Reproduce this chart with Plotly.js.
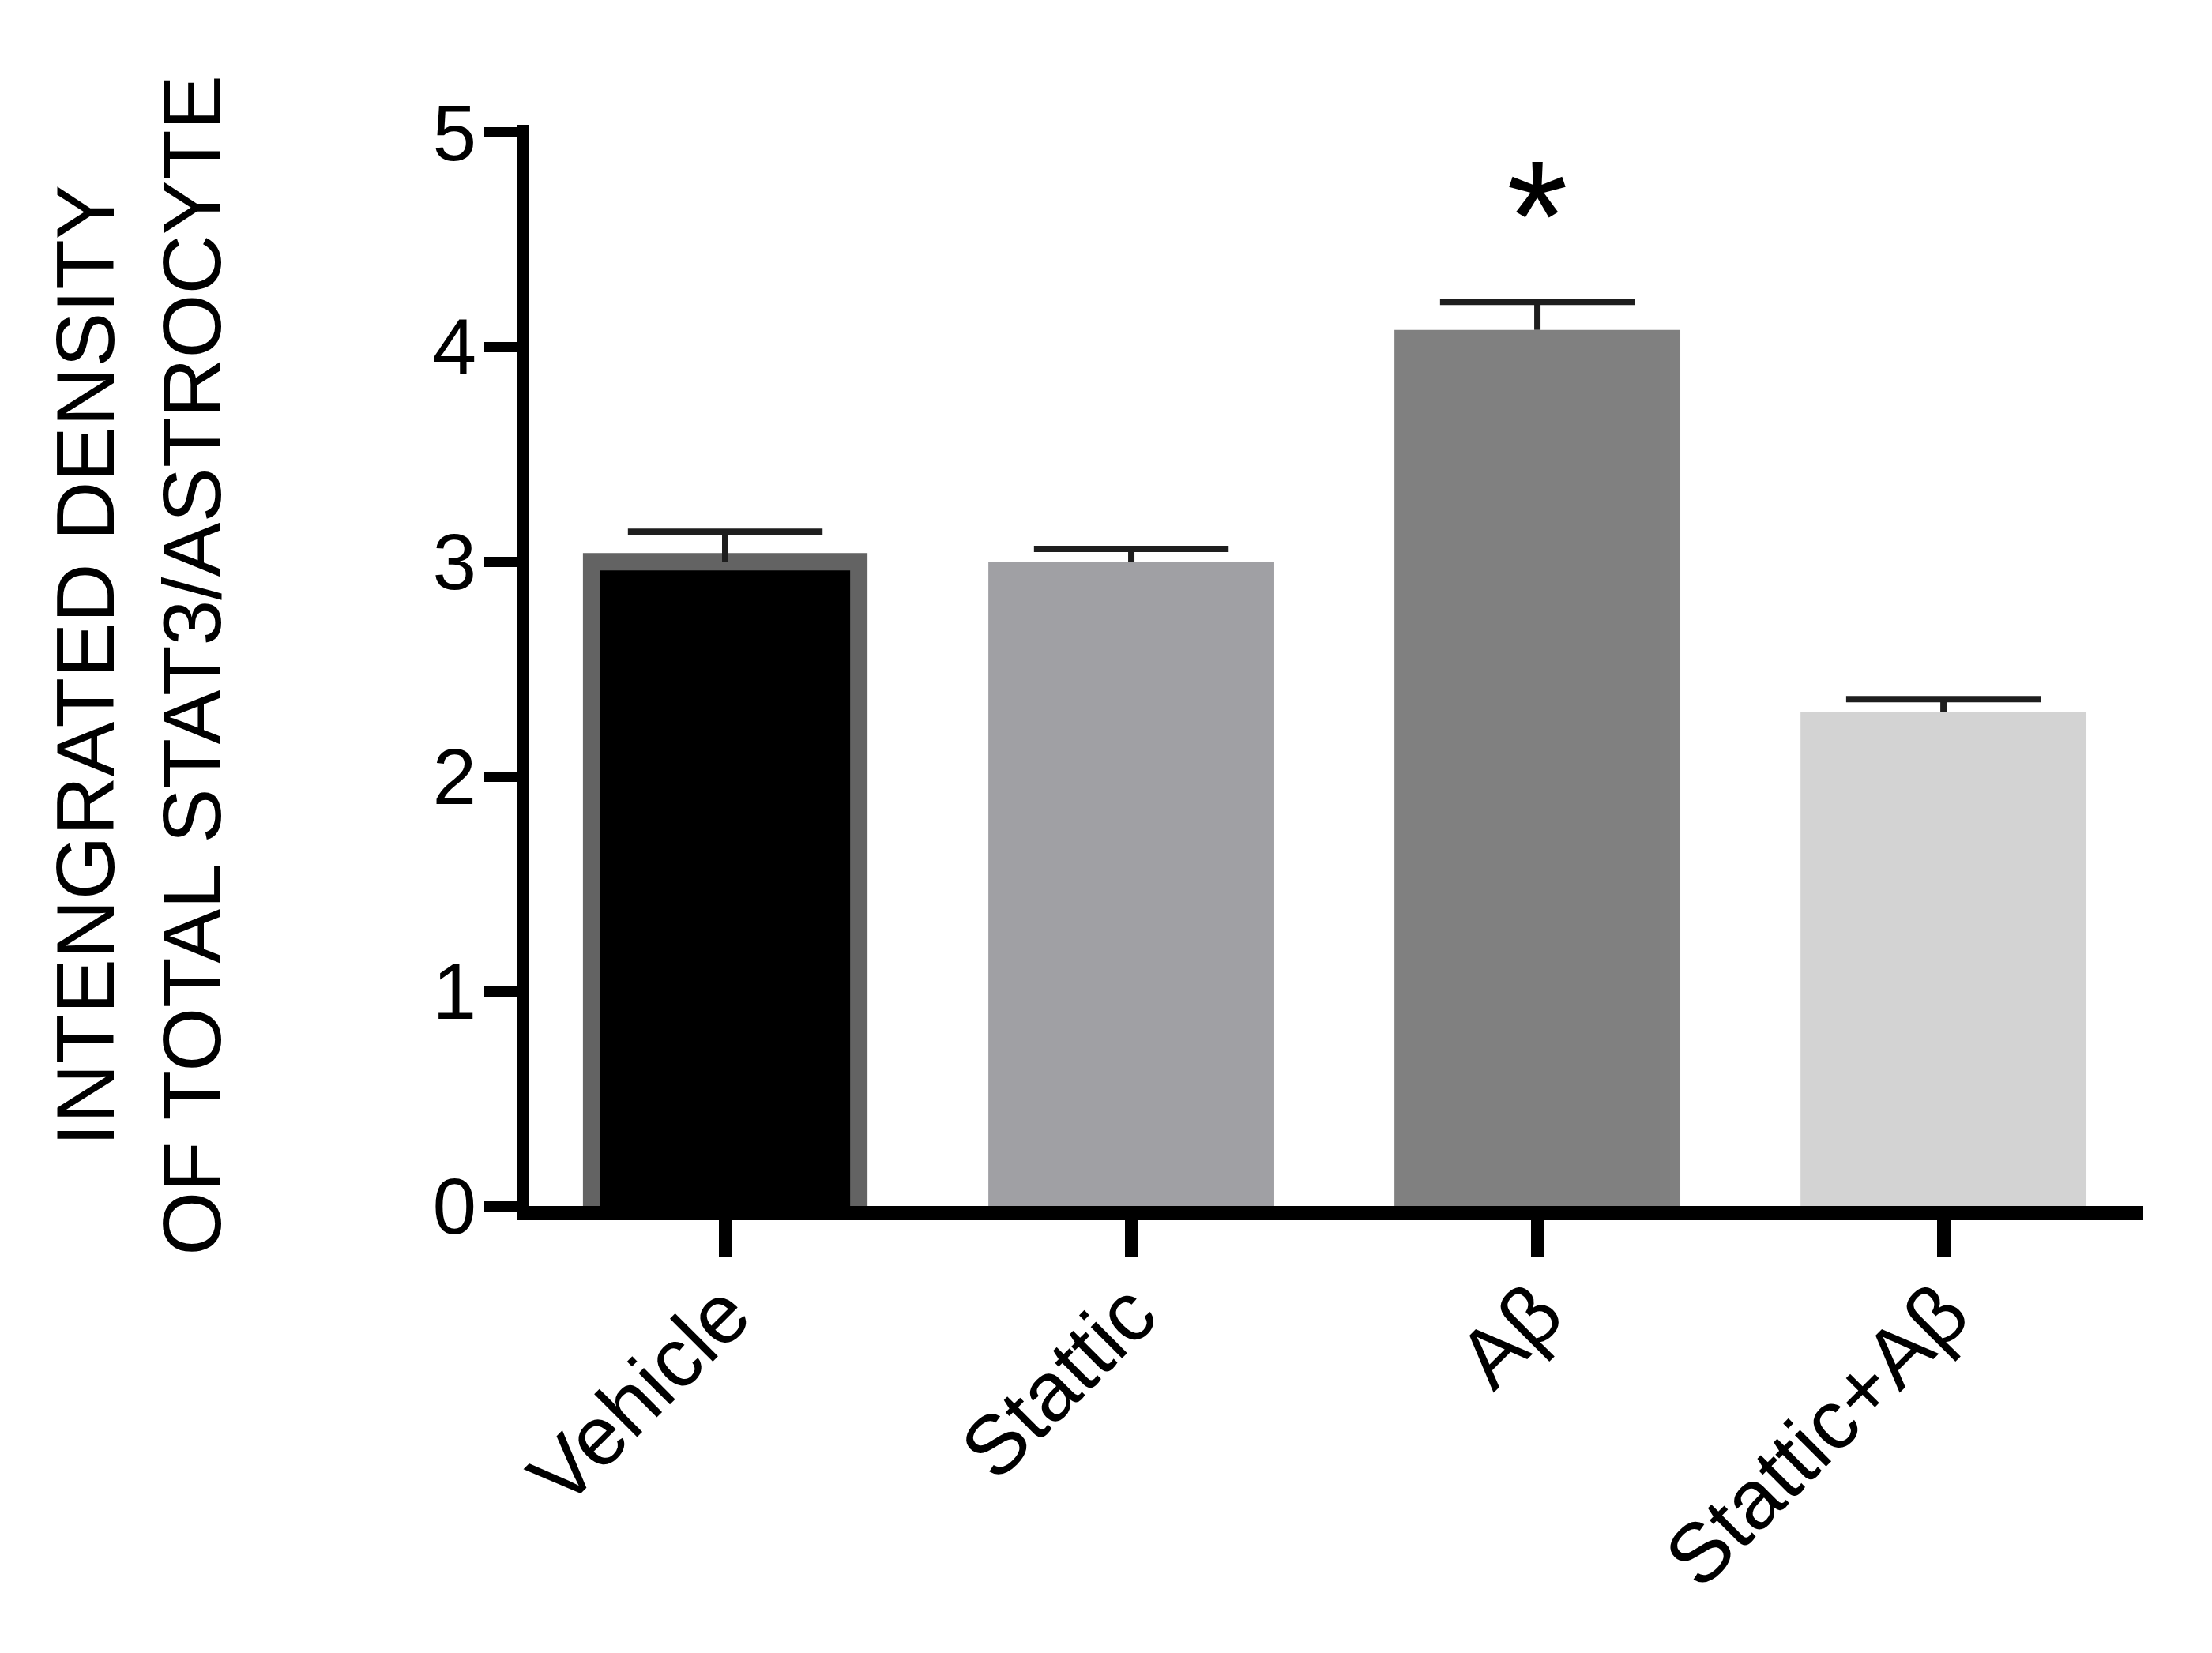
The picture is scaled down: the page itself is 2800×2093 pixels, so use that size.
<!DOCTYPE html>
<html>
<head>
<meta charset="utf-8">
<script src="https://cdn.plot.ly/plotly-3.0.1.min.js"></script>
<style>html,body{margin:0;padding:0;background:#ffffff;}</style>
</head>
<body>
<div id="chart" style="width:2800px;height:2093px;"></div>
<script>
// ---- data ----
const categories = ['Vehicle', 'Stattic', 'Aβ', 'Stattic+Aβ'];
const meanValues = [3.0, 3.0, 4.08, 2.30];
const semValues = [0.14, 0.06, 0.13, 0.06];
const yTickValues = [0, 1, 2, 3, 4, 5];
const yTickLabels = ['0', '1', '2', '3', '4', '5'];
const significanceMarks = ['', '', '*', ''];
const yTitleLines = ['INTENGRATED DENSITY', 'OF TOTAL STAT3/ASTROCYTE'];

// ---- style ----
const FONT = 'Liberation Sans, Arial, Helvetica, sans-serif';
const barColors = ['#000000', '#a0a0a4', '#808080', '#d3d3d3'];
const barLineColors = ['#636363', '#a0a0a4', '#808080', '#d3d3d3'];
const barLineWidths = [22, 0, 0, 0];
const barWidths = [0.658, 0.704, 0.704, 0.704];
const barBaseOffsets = [-0.05, 0, 0, 0]; // hides the bottom edge of the outlined bar under the axis
const ERR_COLOR = '#1e1e1e';

const barTrace = {
  type: 'bar',
  x: categories,
  y: meanValues.map((v, i) => v - barBaseOffsets[i]),
  base: barBaseOffsets,
  width: barWidths,
  marker: {
    color: barColors,
    line: { color: barLineColors, width: barLineWidths }
  },
  error_y: {
    type: 'data',
    symmetric: false,
    array: semValues,
    arrayminus: semValues.map(() => 0),
    color: ERR_COLOR,
    thickness: 8,
    width: 0
  },
  hoverinfo: 'none'
};

// top caps of the (upper-only) SEM bars
const capTrace = {
  type: 'scatter',
  mode: 'markers',
  x: categories,
  y: meanValues.map((v, i) => v + semValues[i]),
  marker: {
    symbol: 'line-ew',
    size: 176,
    color: ERR_COLOR,
    line: { color: ERR_COLOR, width: 8 }
  },
  cliponaxis: false,
  hoverinfo: 'none'
};

const annotations = [];
categories.forEach((c, i) => {
  if (significanceMarks[i]) {
    annotations.push({
      x: c, xref: 'x',
      y: meanValues[i] + semValues[i] + 0.40, yref: 'y',
      text: significanceMarks[i],
      showarrow: false,
      xanchor: 'center', yanchor: 'middle',
      font: { family: FONT, size: 200, color: '#000' }
    });
  }
});

const layout = {
  width: 2800, height: 2093,
  margin: { l: 670, r: 87, t: 158, b: 566, pad: 0 },
  paper_bgcolor: '#ffffff', plot_bgcolor: '#ffffff',
  showlegend: false,
  xaxis: {
    type: 'category',
    range: [-0.4825, 3.492],
    showline: true, linewidth: 18, linecolor: '#000',
    ticks: 'outside', ticklen: 47, tickwidth: 17, tickcolor: '#000',
    tickangle: -45,
    ticklabelstandoff: -33,
    tickfont: { family: FONT, size: 106, color: '#000' },
    showgrid: false, zeroline: false, fixedrange: true
  },
  yaxis: {
    range: [0, 5.035],
    tickvals: yTickValues, ticktext: yTickLabels,
    showline: true, linewidth: 16, linecolor: '#000',
    ticks: 'outside', ticklen: 41, tickwidth: 13, tickcolor: '#000',
    ticklabelstandoff: -10,
    tickfont: { family: FONT, size: 100, color: '#000' },
    showgrid: false, zeroline: false, fixedrange: true,
    title: {
      text: yTitleLines.join('<br>'),
      font: { family: FONT, size: 104, color: '#000' },
      standoff: 240
    }
  },
  annotations: annotations
};

Plotly.newPlot('chart', [barTrace, capTrace], layout, { staticPlot: true, displayModeBar: false });
</script>
</body>
</html>
